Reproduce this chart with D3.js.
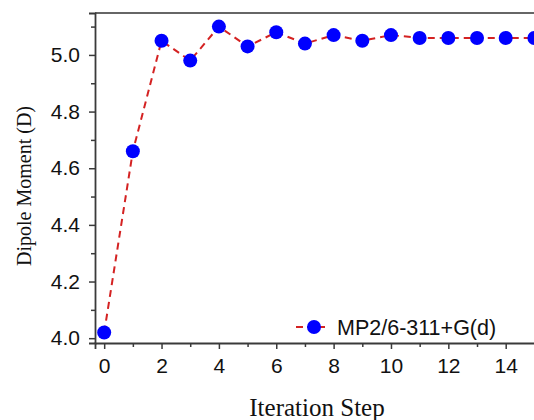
<!DOCTYPE html>
<html>
<head>
<meta charset="utf-8">
<script src="https://cdn.jsdelivr.net/npm/d3@7"></script>
<style>
  body { margin: 0; background: #fff; }
  svg { display: block; }
</style>
</head>
<body>
<div id="chart"></div>
<script>
// data
const steps = [0, 1, 2, 3, 4, 5, 6, 7, 8, 9, 10, 11, 12, 13, 14, 15];
const dipole = [4.02, 4.66, 5.05, 4.98, 5.10, 5.03, 5.08, 5.04, 5.07, 5.05, 5.07, 5.06, 5.06, 5.06, 5.06, 5.06];
const xMajorTicks = [0, 2, 4, 6, 8, 10, 12, 14];
const xMinorTicks = [1, 3, 5, 7, 9, 11, 13, 15];
const yMajorTicks = [4.0, 4.2, 4.4, 4.6, 4.8, 5.0];
const yMinorTicks = [4.1, 4.3, 4.5, 4.7, 4.9, 5.1];
const seriesName = "MP2/6-311+G(d)";

const W = 534, H = 420;
const plot = {left: 95, top: 13, bottom: 343};

const svg = d3.select("#chart")
  .append("svg")
  .attr("width", W)
  .attr("height", H);

const x = d3.scaleLinear()
  .domain([-0.32, 15.5])
  .range([plot.left, plot.left + 15.82 * 28.68]);

const y = d3.scaleLinear()
  .domain([3.983, 5.148])
  .range([plot.bottom, plot.top]);

const axisColor = "#3a3a3a";

// top frame line
svg.append("line")
  .attr("x1", plot.left).attr("x2", W)
  .attr("y1", plot.top).attr("y2", plot.top)
  .attr("stroke", "#666")
  .attr("stroke-width", 2);

// X axis
const xAxis = svg.append("g")
  .attr("transform", `translate(0, ${plot.bottom})`)
  .call(d3.axisBottom(x).tickValues(xMajorTicks).tickSize(6).tickPadding(9).tickFormat(d3.format("d")));
xAxis.append("g")
  .call(d3.axisBottom(x).tickValues(xMinorTicks).tickSize(4).tickFormat(""))
  .select(".domain").remove();

// Y axis
const yAxis = svg.append("g")
  .attr("transform", `translate(${plot.left}, 0)`)
  .call(d3.axisLeft(y).tickValues(yMajorTicks).tickSize(6).tickPadding(9).tickFormat(d3.format(".1f")));
yAxis.append("g")
  .call(d3.axisLeft(y).tickValues(yMinorTicks).tickSize(4).tickFormat(""))
  .select(".domain").remove();

svg.selectAll(".domain")
  .attr("stroke", axisColor)
  .attr("stroke-width", 1.8);
svg.selectAll(".tick line")
  .attr("stroke", axisColor)
  .attr("stroke-width", 1.5);
svg.selectAll(".tick text")
  .attr("fill", "#111")
  .style("font-family", "Liberation Sans, Arial, sans-serif")
  .style("font-size", "21px");

// line
const line = d3.line()
  .x((d, i) => x(steps[i]))
  .y(d => y(d));

svg.append("path")
  .datum(dipole)
  .attr("fill", "none")
  .attr("stroke", "#d42222")
  .attr("stroke-width", 2)
  .attr("stroke-dasharray", "7,5")
  .attr("d", line);

// points
svg.selectAll("circle.pt")
  .data(dipole)
  .join("circle")
    .attr("class", "pt")
    .attr("cx", (d, i) => x(steps[i]))
    .attr("cy", d => y(d))
    .attr("r", 7)
    .attr("fill", "#0000ff");

// legend
const lg = svg.append("g").attr("transform", "translate(296, 327)");
lg.append("line")
  .attr("x1", 0).attr("x2", 32)
  .attr("y1", 0).attr("y2", 0)
  .attr("stroke", "#d42222")
  .attr("stroke-width", 2)
  .attr("stroke-dasharray", "7,4");
lg.append("circle")
  .attr("cx", 18).attr("cy", 0)
  .attr("r", 7)
  .attr("fill", "#0000ff");
lg.append("text")
  .attr("x", 41).attr("y", 8)
  .style("font-family", "Liberation Sans, Arial, sans-serif")
  .style("font-size", "21.5px")
  .attr("fill", "#111")
  .text(seriesName);

// axis titles
svg.append("text")
  .attr("x", 317).attr("y", 416)
  .attr("text-anchor", "middle")
  .style("font-family", "Liberation Serif, Times New Roman, serif")
  .style("font-size", "25px")
  .attr("fill", "#111")
  .text("Iteration Step");

svg.append("text")
  .attr("transform", "translate(31, 186) rotate(-90)")
  .attr("text-anchor", "middle")
  .style("font-family", "Liberation Serif, Times New Roman, serif")
  .style("font-size", "20px")
  .attr("fill", "#111")
  .text("Dipole Moment (D)");
</script>
</body>
</html>
